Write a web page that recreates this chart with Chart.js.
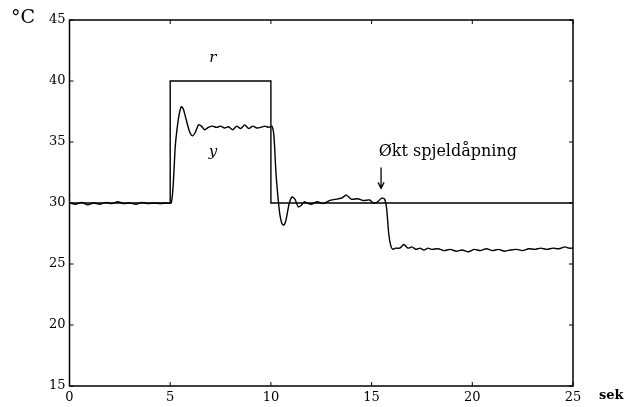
<!DOCTYPE html>
<html>
<head>
<meta charset="utf-8">
<script src="https://cdn.jsdelivr.net/npm/chart.js@4.4.1/dist/chart.umd.min.js"></script>
<style>
  html, body { margin: 0; padding: 0; background: #fff; }
  #wrap { width: 627px; height: 407px; }
</style>
</head>
<body>
<div id="wrap"><canvas id="chart" width="627" height="407"></canvas></div>
<script>
// Reference signal r (step)
const rTimes = [0, 5, 5, 10, 10, 25];
const rValues = [30, 30, 40, 40, 30, 30];

// Measured temperature y
const yTimes = [
  0, 0.3, 0.6, 0.9, 1.2, 1.5, 1.8, 2.1, 2.4, 2.7, 3.0, 3.3, 3.6, 3.9, 4.2, 4.5, 4.8, 5.05,
  5.15, 5.25, 5.35, 5.45, 5.55, 5.65, 5.8, 5.95, 6.1, 6.25, 6.4, 6.55, 6.7, 6.9, 7.1, 7.3,
  7.5, 7.7, 7.9, 8.1, 8.3, 8.5, 8.7, 8.9, 9.1, 9.3, 9.5, 9.7, 9.9, 10.05, 10.15, 10.25,
  10.35, 10.45, 10.55, 10.65, 10.75, 10.9, 11.05, 11.2, 11.35, 11.5, 11.65, 11.8, 12.0,
  12.3, 12.6, 12.9, 13.2, 13.5, 13.75, 14.0, 14.3, 14.6, 14.9, 15.1, 15.3, 15.5, 15.65,
  15.75, 15.85, 15.95, 16.05, 16.2, 16.4, 16.6, 16.8, 17.0, 17.2, 17.4, 17.6, 17.8, 18.0,
  18.3, 18.6, 18.9, 19.2, 19.5, 19.8, 20.1, 20.4, 20.7, 21.0, 21.3, 21.6, 21.9, 22.2,
  22.5, 22.8, 23.1, 23.4, 23.7, 24.0, 24.3, 24.6, 24.8, 25
];
const yValues = [
  30.0, 29.9, 30.05, 29.85, 30.0, 29.9, 30.05, 29.95, 30.1, 29.95, 30.0, 29.9, 30.05, 29.95, 30.0, 29.95, 30.0, 30.0,
  31.5, 34.6, 36.2, 37.3, 37.9, 37.7, 36.8, 35.9, 35.5, 35.8, 36.4, 36.3, 36.0, 36.2, 36.3, 36.2,
  36.3, 36.15, 36.25, 36.0, 36.3, 36.1, 36.4, 36.1, 36.3, 36.15, 36.2, 36.3, 36.2, 36.3, 35.5, 32.5,
  30.5, 29.0, 28.3, 28.2, 28.6, 29.9, 30.5, 30.3, 29.7, 29.8, 30.1, 30.0, 29.9,
  30.1, 29.95, 30.2, 30.3, 30.4, 30.65, 30.3, 30.35, 30.2, 30.25, 30.0, 30.1, 30.4, 30.3,
  29.5, 27.5, 26.5, 26.2, 26.3, 26.3, 26.6, 26.3, 26.4, 26.2, 26.3, 26.15, 26.3, 26.2,
  26.25, 26.1, 26.2, 26.05, 26.15, 26.0, 26.2, 26.1, 26.25, 26.1, 26.2, 26.05, 26.15, 26.2,
  26.1, 26.25, 26.2, 26.3, 26.2, 26.3, 26.25, 26.4, 26.3, 26.3
];

const xTicks = [0, 5, 10, 15, 20, 25];
const yTicks = [15, 20, 25, 30, 35, 40, 45];

const serif = "'DejaVu Serif', 'Liberation Serif', serif";

function toPoints(xs, ys) {
  return xs.map((x, i) => ({ x: x, y: ys[i] }));
}

// Frame, inward ticks and the text annotations
const framePlugin = {
  id: "frame",
  afterDraw(chart) {
    const ctx = chart.ctx;
    const a = chart.chartArea;
    const xs = chart.scales.x;
    const ys = chart.scales.y;
    ctx.save();
    ctx.strokeStyle = "#000";
    ctx.lineWidth = 1.5;
    ctx.strokeRect(a.left, a.top, a.right - a.left, a.bottom - a.top);

    ctx.lineWidth = 1;
    ctx.beginPath();
    yTicks.forEach((v) => {
      const py = ys.getPixelForValue(v);
      ctx.moveTo(a.left, py);
      ctx.lineTo(a.left + 4, py);
      ctx.moveTo(a.right, py);
      ctx.lineTo(a.right - 4, py);
    });
    xTicks.forEach((v) => {
      const px = xs.getPixelForValue(v);
      ctx.moveTo(px, a.bottom);
      ctx.lineTo(px, a.bottom - 4);
      ctx.moveTo(px, a.top);
      ctx.lineTo(px, a.top + 4);
    });
    ctx.stroke();

    ctx.fillStyle = "#000";
    ctx.textBaseline = "middle";

    // axis units
    ctx.font = "19px " + serif;
    ctx.textAlign = "left";
    ctx.fillText("°C", 11, 18);
    ctx.font = "bold 13px " + serif;
    ctx.fillText("sek", 599, 396);

    // curve labels
    ctx.font = "italic 15px " + serif;
    ctx.textAlign = "center";
    ctx.fillText("r", xs.getPixelForValue(7.12), ys.getPixelForValue(41.9));
    ctx.fillText("y", xs.getPixelForValue(7.12), ys.getPixelForValue(34.2));

    // annotation
    ctx.font = "16px " + serif;
    ctx.textAlign = "left";
    ctx.fillText("Økt spjeldåpning", xs.getPixelForValue(15.35), ys.getPixelForValue(34.2));

    const ax = xs.getPixelForValue(15.47);
    const ay1 = ys.getPixelForValue(32.9);
    const ay2 = ys.getPixelForValue(31.2);
    ctx.lineWidth = 1.3;
    ctx.beginPath();
    ctx.moveTo(ax, ay1);
    ctx.lineTo(ax, ay2);
    ctx.moveTo(ax - 3, ay2 - 6);
    ctx.lineTo(ax, ay2);
    ctx.lineTo(ax + 3, ay2 - 6);
    ctx.stroke();
    ctx.restore();
  }
};

new Chart(document.getElementById("chart"), {
  type: "line",
  data: {
    datasets: [
      {
        label: "r",
        data: toPoints(rTimes, rValues),
        borderColor: "#000",
        borderWidth: 1.4,
        pointRadius: 0,
        tension: 0
      },
      {
        label: "y",
        data: toPoints(yTimes, yValues),
        borderColor: "#000",
        borderWidth: 1.4,
        pointRadius: 0,
        tension: 0.2
      }
    ]
  },
  options: {
    responsive: false,
    animation: false,
    layout: { padding: { top: 20, right: 54, bottom: 0, left: 0 } },
    plugins: {
      legend: { display: false },
      tooltip: { enabled: false }
    },
    scales: {
      x: {
        type: "linear",
        min: 0,
        max: 25,
        afterFit: (s) => { s.height = 21; },
        afterBuildTicks: (s) => { s.ticks = xTicks.map((v) => ({ value: v })); },
        grid: { display: false, drawTicks: false },
        border: { display: false },
        ticks: {
          color: "#000",
          font: { family: serif, size: 13 },
          padding: 4,
          maxRotation: 0
        }
      },
      y: {
        min: 15,
        max: 45,
        afterFit: (s) => { s.width = 69.5; },
        afterBuildTicks: (s) => { s.ticks = yTicks.map((v) => ({ value: v })); },
        grid: { display: false, drawTicks: false },
        border: { display: false },
        ticks: {
          color: "#000",
          font: { family: serif, size: 13 },
          padding: 4
        }
      }
    }
  },
  plugins: [framePlugin]
});
</script>
</body>
</html>
